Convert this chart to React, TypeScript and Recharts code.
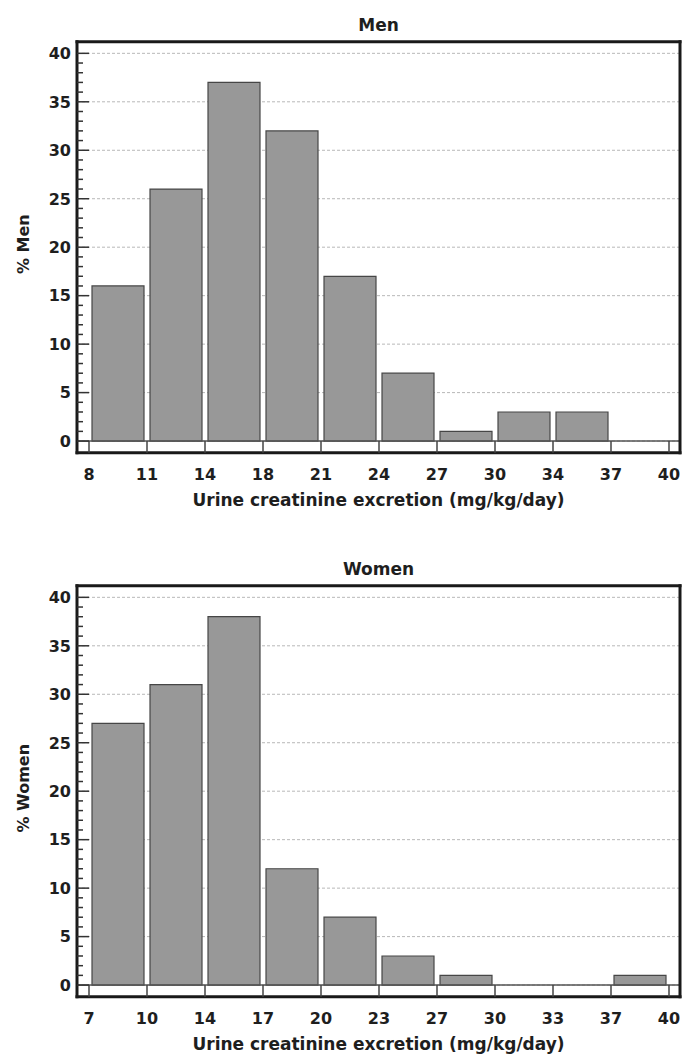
import React from 'react';
import { BarChart, Bar, XAxis, YAxis, CartesianGrid, ReferenceLine } from 'recharts';

// ---- data ----
const menEdges = ['8', '11', '14', '18', '21', '24', '27', '30', '34', '37', '40'];
const menValues = [16, 26, 37, 32, 17, 7, 1, 3, 3, 0];
const womenEdges = ['7', '10', '14', '17', '20', '23', '27', '30', '33', '37', '40'];
const womenValues = [27, 31, 38, 12, 7, 3, 1, 0, 0, 1];
const yMajorTicks = [0, 5, 10, 15, 20, 25, 30, 35, 40];
const yAllTicks = Array.from({ length: 41 }, (_, i) => i);
const xLabel = 'Urine creatinine excretion (mg/kg/day)';

const FONT = "'DejaVu Sans', sans-serif";
const INK = '#1e1e1e';
const FRAME = { stroke: '#1a1a1a', strokeWidth: 3, strokeLinecap: 'square' as const };

const YTick = (props: any) => {
  const { x, y, payload } = props;
  const v = payload.value;
  const major = v % 5 === 0;
  return (
    <g>
      <line x1={x} x2={x + (major ? 12 : 6)} y1={y} y2={y} stroke="#333" strokeWidth={1.5} />
      {major && (
        <text x={x - 6} y={y} dy={5.8} textAnchor="end" fontFamily={FONT} fontWeight="bold" fontSize={16} fill={INK}>
          {v}
        </text>
      )}
    </g>
  );
};

const makeXTick = (edges: string[], n: number) => (props: any) => {
  const { x, y, payload, index } = props;
  const half = payload.offset ?? 29;
  const i = typeof index === 'number' ? index : payload.index;
  const marks: { xx: number; label: string }[] = [{ xx: x - half, label: edges[i] }];
  if (i === n - 1) marks.push({ xx: x + half, label: edges[i + 1] });
  return (
    <g>
      {marks.map((m, k) => (
        <g key={k}>
          <line x1={m.xx} x2={m.xx} y1={y} y2={y - 11.6} stroke="#444" strokeWidth={1.5} />
          <text x={m.xx} y={y + 27} textAnchor="middle" fontFamily={FONT} fontWeight="bold" fontSize={16} fill={INK}>
            {m.label}
          </text>
        </g>
      ))}
    </g>
  );
};

type PanelProps = {
  title: string;
  yLabel: string;
  edges: string[];
  values: number[];
  height: number;
};

const PLOT_TOP = 41.7;
const PLOT_H = 411;
const AXIS_H = 60;

const Panel = ({ title, yLabel, edges, values, height }: PanelProps) => {
  const data = values.map((v, i) => ({ bin: `${edges[i]}-${edges[i + 1]}`, value: v }));
  const bottom = height - PLOT_TOP - PLOT_H - AXIS_H;
  return (
    <BarChart
      width={683}
      height={height}
      data={data}
      margin={{ top: PLOT_TOP - 1, right: 10, bottom, left: 9 }}
      barCategoryGap={3}
    >
      <CartesianGrid
        vertical={false}
        horizontalValues={yMajorTicks}
        stroke="#b8b8b8"
        strokeDasharray="3 2"
      />
      <XAxis
        dataKey="bin"
        type="category"
        interval={0}
        padding={{ left: 12, right: 11 }}
        height={AXIS_H}
        tickSize={0}
        tickMargin={0}
        tickLine={false}
        axisLine={FRAME}
        tick={makeXTick(edges, values.length)}
        label={{
          content: (p: any) => {
            const vb = p.viewBox;
            return (
              <text x={vb.x + vb.width / 2} y={vb.y + 53} textAnchor="middle" fontFamily={FONT} fontWeight="bold" fontSize={17} fill={INK}>
                {xLabel}
              </text>
            );
          },
        }}
      />
      <XAxis
        xAxisId="top"
        dataKey="bin"
        orientation="top"
        height={1}
        tick={false}
        tickLine={false}
        axisLine={FRAME}
        label={{
          content: (p: any) => {
            const vb = p.viewBox;
            return (
              <text x={vb.x + vb.width / 2} y={vb.y + vb.height - 10.7} textAnchor="middle" fontFamily={FONT} fontWeight="bold" fontSize={17} fill={INK}>
                {title}
              </text>
            );
          },
        }}
      />
      <YAxis
        type="number"
        domain={[-1.2, 41.2]}
        allowDataOverflow
        ticks={yAllTicks}
        interval={0}
        width={60}
        tickSize={0}
        tickMargin={0}
        tickLine={false}
        axisLine={FRAME}
        tick={YTick}
        label={{
          content: (p: any) => {
            const vb = p.viewBox;
            const cx = vb.x + 12;
            const cy = vb.y + vb.height / 2 - 3;
            return (
              <text x={cx} y={cy} transform={`rotate(-90 ${cx} ${cy})`} textAnchor="middle" fontFamily={FONT} fontWeight="bold" fontSize={16} fill={INK}>
                {yLabel}
              </text>
            );
          },
        }}
      />
      <YAxis
        yAxisId="right"
        orientation="right"
        type="number"
        domain={[-1.2, 41.2]}
        width={1}
        tick={false}
        tickLine={false}
        axisLine={FRAME}
      />
      <Bar dataKey="value" fill="#989898" stroke="#464646" strokeWidth={1.2} isAnimationActive={false} />
      <ReferenceLine y={0} stroke="#555" strokeWidth={1.5} />
    </BarChart>
  );
};

export default function App() {
  return (
    <div style={{ width: 683, marginTop: -8, fontFamily: FONT }}>
      <Panel title="Men" yLabel="% Men" edges={menEdges} values={menValues} height={544} />
      <Panel title="Women" yLabel="% Women" edges={womenEdges} values={womenValues} height={512} />
    </div>
  );
}
